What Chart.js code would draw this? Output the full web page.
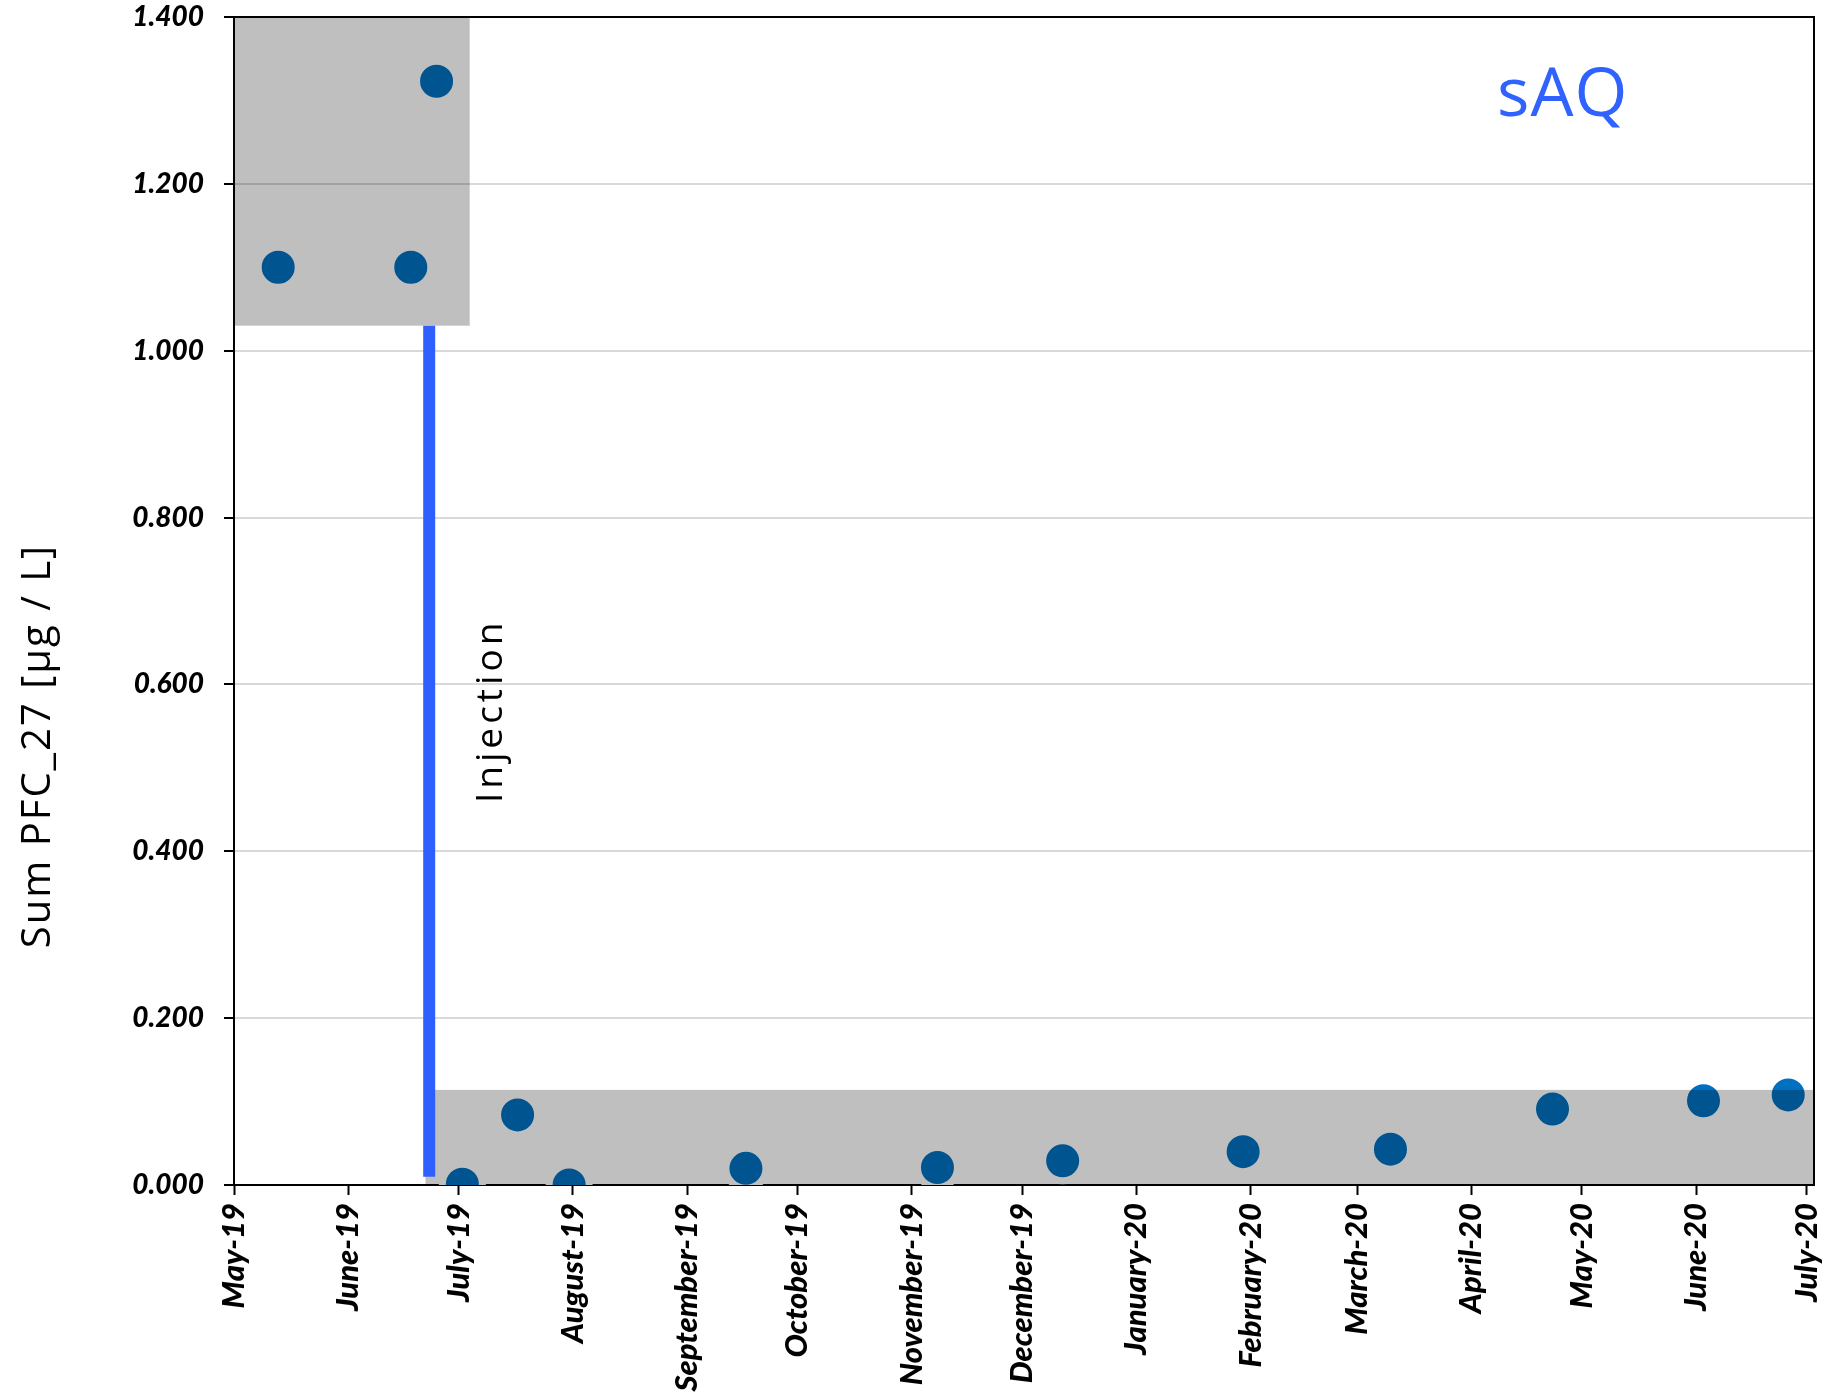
<!DOCTYPE html>
<html>
<head>
<meta charset="utf-8">
<script src="https://cdn.jsdelivr.net/npm/chart.js@4.4.1/dist/chart.umd.min.js"></script>
<style>
  html, body { margin: 0; padding: 0; background: #ffffff; }
  #wrap { width: 1831px; height: 1397px; position: relative; }
</style>
</head>
<body>
<div id="wrap"><canvas id="c" width="1831" height="1397"></canvas></div>
<script>
// Sampling dates and summed PFC_27 concentration [µg/L]
const sampleDates = ['2019-05-13', '2019-06-18', '2019-06-25', '2019-07-02', '2019-07-17', '2019-07-31',
                     '2019-09-17', '2019-11-08', '2019-12-12', '2020-01-30', '2020-03-10', '2020-04-23',
                     '2020-06-03', '2020-06-26'];
const sumPfc27 = [1.100, 1.100, 1.323, 0.001, 0.084, 0.000, 0.020, 0.021, 0.029, 0.040, 0.043, 0.091, 0.101, 0.108];

// Month ticks on the date axis
const monthTicks = ['2019-05-01', '2019-06-01', '2019-07-01', '2019-08-01', '2019-09-01', '2019-10-01',
                    '2019-11-01', '2019-12-01', '2020-01-01', '2020-02-01', '2020-03-01', '2020-04-01',
                    '2020-05-01', '2020-06-01', '2020-07-01'];
const monthLabels = ['May-19', 'June-19', 'July-19', 'August-19', 'September-19', 'October-19',
                     'November-19', 'December-19', 'January-20', 'February-20', 'March-20', 'April-20',
                     'May-20', 'June-20', 'July-20'];
const yTicks = [0, 0.2, 0.4, 0.6, 0.8, 1.0, 1.2, 1.4];
const axisRange = ['2019-05-01', '2020-07-03'];

// Injection event: date and vertical extent
const injectionDate = '2019-06-23';
const injectionSpan = [0.010, 1.030];

// Shaded bands before / after injection: [fromDate, toDate, low, high]
const preInjectionBand = ['2019-05-01', '2019-07-04', 1.030, 1.400];
const postInjectionBand = ['2019-06-22', '2020-07-03', 0.000, 0.114];

const day = s => Date.UTC(+s.slice(0, 4), +s.slice(5, 7) - 1, +s.slice(8, 10)) / 864e5;

const TICK_FONT = 'Lato';
const TEXT_FONT = '"Open Sans"';

const overlayPlugin = {
  id: 'overlays',
  beforeDatasetsDraw(chart) {
    // closing frame on top and right of the plot area
    const { ctx, chartArea: a } = chart;
    ctx.save();
    ctx.strokeStyle = '#000';
    ctx.lineWidth = 2;
    ctx.beginPath();
    ctx.moveTo(a.left, a.top);
    ctx.lineTo(a.right, a.top);
    ctx.lineTo(a.right, a.bottom);
    ctx.stroke();
    ctx.restore();
  },
  afterDatasetDraw(chart, args) {
    if (args.index !== 1) return;
    const { ctx, scales: { x, y } } = chart;
    ctx.save();
    ctx.fillStyle = 'rgba(0,0,0,0.25)';
    [preInjectionBand, postInjectionBand].forEach(b => {
      const x0 = x.getPixelForValue(day(b[0]));
      const x1 = x.getPixelForValue(day(b[1]));
      const y0 = y.getPixelForValue(b[3]);
      const y1 = y.getPixelForValue(b[2]);
      ctx.fillRect(x0, y0, x1 - x0, y1 - y0);
    });
    ctx.restore();
  },
  afterDraw(chart) {
    const { ctx } = chart;
    ctx.save();
    // site label
    ctx.fillStyle = '#2F62FF';
    ctx.font = '68px ' + TEXT_FONT;
    ctx.letterSpacing = '1px';
    ctx.textAlign = 'left';
    ctx.textBaseline = 'alphabetic';
    ctx.fillText('sAQ', 1497, 116);

    // injection label
    ctx.fillStyle = '#000';
    ctx.save();
    ctx.translate(502, 803);
    ctx.rotate(-Math.PI / 2);
    ctx.font = '37px ' + TEXT_FONT;
    ctx.letterSpacing = '4px';
    ctx.fillText('Injection', 0, 0);
    ctx.restore();

    // y axis title
    ctx.save();
    ctx.translate(50, 746);
    ctx.rotate(-Math.PI / 2);
    ctx.font = '40px ' + TEXT_FONT;
    ctx.letterSpacing = '2px';
    ctx.textAlign = 'center';
    ctx.fillText('Sum PFC_27 [µg / L]', 0, 0);
    ctx.restore();
    ctx.restore();
  }
};

new Chart(document.getElementById('c'), {
  type: 'scatter',
  data: {
    datasets: [
      {
        label: 'Injection',
        type: 'line',
        data: [{ x: day(injectionDate), y: injectionSpan[0] }, { x: day(injectionDate), y: injectionSpan[1] }],
        borderColor: '#2F5FFF',
        borderWidth: 12,
        borderCapStyle: 'butt',
        pointRadius: 0,
        fill: false,
        order: 0
      },
      {
        label: 'Sum PFC_27',
        data: sampleDates.map((d, i) => ({ x: day(d), y: sumPfc27[i] })),
        pointRadius: 20,
        pointBackgroundColor: '#0070C0',
        pointBorderColor: '#ffffff',
        pointBorderWidth: 7,
        order: 1
      }
    ]
  },
  options: {
    responsive: false,
    animation: false,
    events: [],
    layout: { autoPadding: false, padding: { top: 17, right: 17, left: 0, bottom: 0 } },
    plugins: { legend: { display: false }, tooltip: { enabled: false } },
    scales: {
      x: {
        type: 'linear',
        min: day(axisRange[0]),
        max: day(axisRange[1]),
        afterBuildTicks: s => { s.ticks = monthTicks.map(d => ({ value: day(d) })); },
        afterFit: s => { s.height = 212; s.paddingLeft = 0; s.paddingRight = 0; },
        ticks: {
          autoSkip: false,
          minRotation: 90,
          maxRotation: 90,
          padding: 8,
          color: '#000',
          font: { family: TICK_FONT, size: 31, weight: '900', style: 'italic' },
          callback: (v, i) => monthLabels[i]
        },
        grid: { drawOnChartArea: false, drawTicks: true, tickLength: 10, tickColor: '#000', tickWidth: 2 },
        border: { color: '#000', width: 2 }
      },
      y: {
        min: 0,
        max: 1.4,
        afterBuildTicks: s => { s.ticks = yTicks.map(v => ({ value: v })); },
        afterFit: s => { s.width = 234; s.paddingTop = 0; s.paddingBottom = 0; },
        ticks: {
          padding: 20,
          color: '#000',
          font: { family: TICK_FONT, size: 28, weight: '900', style: 'italic' },
          callback: v => v.toFixed(3)
        },
        grid: { color: '#D9D9D9', lineWidth: 2, tickLength: 10, tickColor: '#000', tickWidth: 2 },
        border: { color: '#000', width: 2 }
      }
    }
  },
  plugins: [overlayPlugin]
});
</script>
</body>
</html>
